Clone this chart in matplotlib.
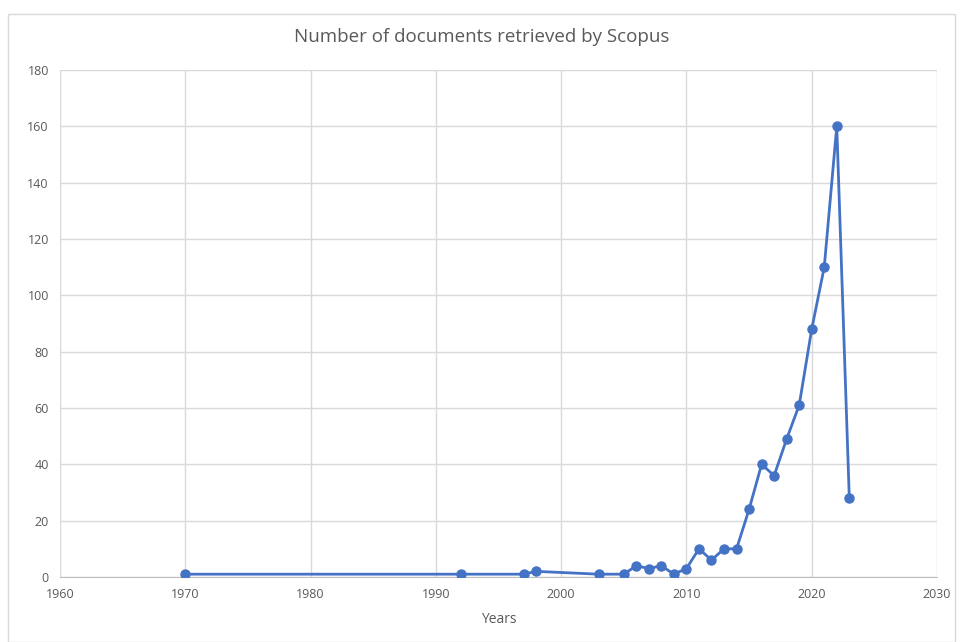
import matplotlib
matplotlib.use("Agg")
import matplotlib.pyplot as plt
from matplotlib.patches import Rectangle

years = [1970, 1992, 1997, 1998, 2003, 2005, 2006, 2007, 2008, 2009, 2010, 2011,
         2012, 2013, 2014, 2015, 2016, 2017, 2018, 2019, 2020, 2021, 2022, 2023]
docs = [1, 1, 1, 2, 1, 1, 4, 3, 4, 1, 3, 10, 6, 10, 10, 24, 40, 36, 49, 61, 88, 110, 160, 28]

xticks = list(range(1960, 2031, 10))
yticks = list(range(0, 181, 20))

plt.rcParams['font.family'] = ['Open Sans', 'DejaVu Sans']

fig = plt.figure(figsize=(9.63, 6.42), dpi=100)
fig.patches.append(Rectangle((8/963, 0), 1 - 16/963, 1 - 14/642, transform=fig.transFigure,
                             fill=False, edgecolor='#d9d9d9', linewidth=1))
ax = fig.add_axes([60/963, 1 - 577/642, 877/963, 507/642])

ax.plot(years, docs, color='#4472C4', linewidth=2, marker='o', markersize=6.5, zorder=3)

ax.set_xlim(1960, 2030)
ax.set_ylim(0, 180)
ax.set_xticks(xticks)
ax.set_yticks(yticks)
ax.grid(True, color='#d9d9d9', linewidth=1)
for s in ['top', 'right', 'left']:
    ax.spines[s].set_visible(False)
ax.spines['bottom'].set_color('#bfbfbf')
ax.tick_params(length=0, labelsize=9, colors='#595959', pad=8)
ax.set_xlabel('Years', fontsize=10, color='#595959', labelpad=8)
fig.text(0.5, 1 - 37/642, 'Number of documents retrieved by Scopus', ha='center', va='center',
         fontsize=13.5, color='#595959')

fig.savefig('out.png', dpi=100)
